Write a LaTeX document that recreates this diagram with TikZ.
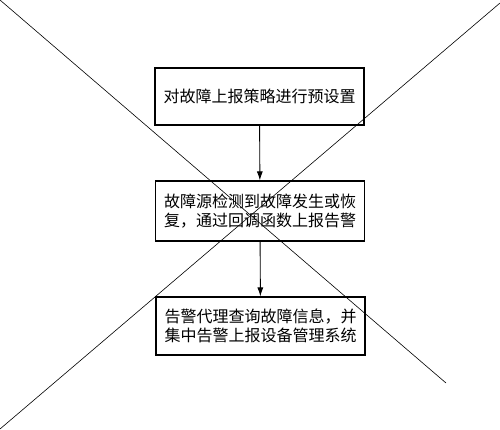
\documentclass[tikz,border=0pt]{standalone}
\usepackage{fontspec}
\newfontfamily\cjk{Noto Sans CJK SC}
\usetikzlibrary{arrows.meta}

\begin{document}
\begin{tikzpicture}[x=1pt, y=-1pt,
  stepbox/.style={draw, line width=1.1pt, minimum width=209pt, inner sep=0pt,
    align=left, font=\cjk\fontsize{16}{19}\selectfont},
  flow/.style={-{Latex[length=9pt, width=6pt]}, line width=0.9pt}]
  \useasboundingbox (0,0) rectangle (500,429);
  % cross over the whole figure
  \coordinate (tl) at (0,0);
  \coordinate (br) at (446,383);
  \coordinate (tr) at (500,3);
  \coordinate (bl) at (0,429);
  \draw[line width=0.6pt] (tl) -- (br);
  \draw[line width=0.6pt] (tr) -- (bl);
  % steps
  \node[stepbox, minimum height=57pt] (preset) at (259.5,96.5) {对故障上报策略进行预设置};
  \node[stepbox, minimum height=60pt] (detect) at (260,211) {故障源检测到故障发生或恢\\复，通过回调函数上报告警};
  \node[stepbox, minimum height=58pt] (report) at (260.5,326) {告警代理查询故障信息，并\\集中告警上报设备管理系统};
  \draw[flow] (preset) -- (detect);
  \draw[flow] (detect) -- (report);
\end{tikzpicture}
\end{document}
